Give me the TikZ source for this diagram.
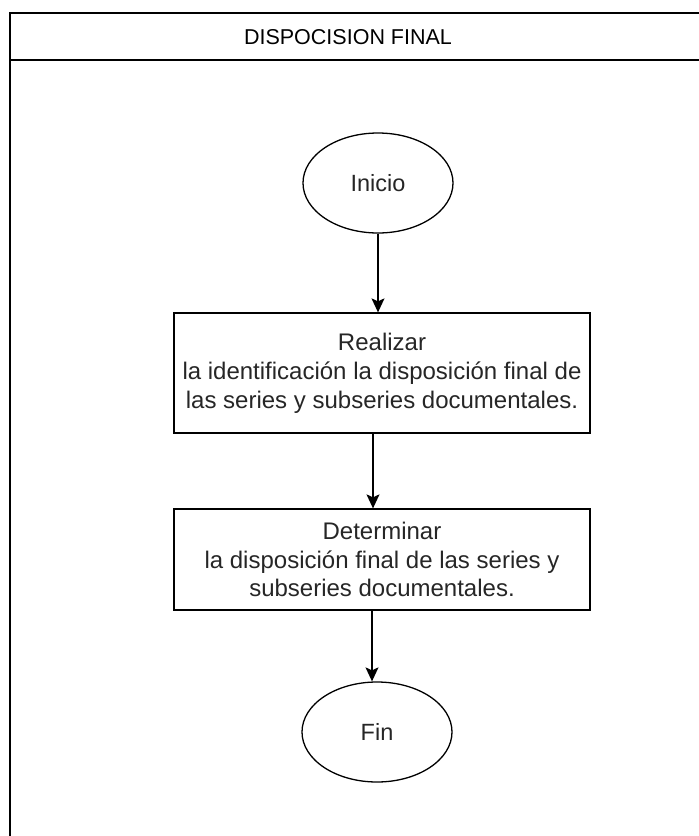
\documentclass[tikz,border=0pt]{standalone}
\usepackage{fontspec}
\setmainfont{Liberation Sans}
\usetikzlibrary{arrows.meta,shapes.geometric}

\tikzset{
  frameline/.style={line width=2pt, draw=black},
  terminal/.style={ellipse, draw=black, line width=1.3pt,
    minimum width=150pt, minimum height=100pt, inner sep=0pt,
    font=\fontsize{23.5}{28}\selectfont, text=black!85},
  process/.style={rectangle, draw=black, line width=1.3pt,
    minimum width=416pt, inner sep=0pt, align=center,
    font=\fontsize{24}{28.8}\selectfont, text=black!85},
  flow/.style={line width=1.3pt, draw=black,
    -{Stealth[length=14pt,width=13pt,inset=3pt]}},
  titletext/.style={font=\fontsize{21.5}{26}\selectfont, text=black}
}

\begin{document}
\begin{tikzpicture}[x=1pt,y=-1pt]
  \useasboundingbox (0,0) rectangle (699,836);
  \clip (0,0) rectangle (699,836);

  % swimlane frame with header
  \draw[frameline] (10,860) -- (10,13) -- (720,13);
  \draw[frameline] (10,60) -- (720,60);
  \node[titletext] (title) at (348,37) {DISPOCISION FINAL};

  % flow steps
  \node[terminal] (inicio) at (378,183) {Inicio};
  \node[process, minimum height=120pt] (realizar) at (382,373)
    {Realizar\\la identificación la disposición final de\\las series y subseries documentales.};
  \node[process, minimum height=101pt] (determinar) at (382,559.5)
    {Determinar\\la disposición final de las series y\\subseries documentales.};
  \node[terminal] (fin) at (377,732) {Fin};

  % connectors
  \draw[flow] (inicio.south) -- (inicio.south |- realizar.north);
  \draw[flow] ([xshift=-9pt]realizar.south) -- ([xshift=-9pt]realizar.south |- determinar.north);
  \draw[flow] ([xshift=-10pt]determinar.south) -- ([xshift=-10pt]determinar.south |- fin.north);
\end{tikzpicture}
\end{document}
